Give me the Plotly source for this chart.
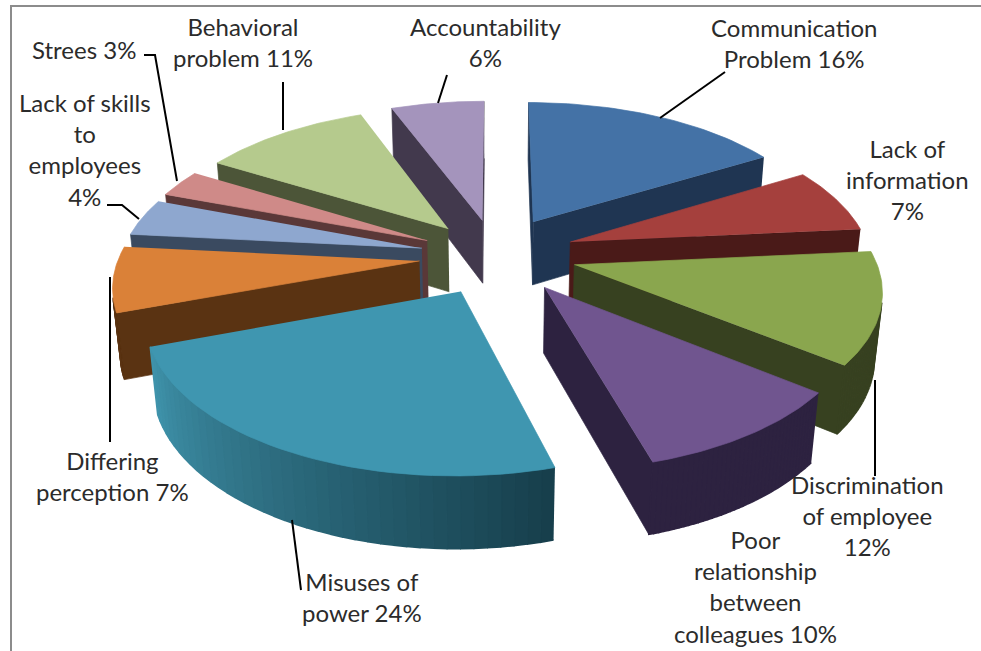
import numpy as np
import plotly.graph_objects as go

categories = ["Communication Problem", "Lack of information", "Discrimination of employee",
              "Poor relationship between colleagues", "Misuses of power", "Differing perception",
              "Lack of skills to employees", "Strees", "Behavioral problem", "Accountability"]
values = [16, 7, 12, 10, 24, 7, 4, 3, 11, 6]
label_lines = ["Communication<br>Problem {}%", "Lack of<br>information<br>{}%", "Discrimination<br>of employee<br>{}%",
               "Poor<br>relationship<br>between<br>colleagues {}%", "Misuses of<br>power {}%", "Differing<br>perception {}%",
               "Lack of skills<br>to<br>employees<br>{}%", "Strees {}%", "Behavioral<br>problem {}%", "Accountability<br>{}%"]
top_colors = ["#4472A6", "#A5403D", "#8AA64E", "#70558F", "#3F96B0", "#DA8138", "#8EA7CF", "#CF8A88", "#B5CA8D", "#A494BC"]
wall_start = ["#1F3552", "#4A1A18", "#374120", "#2D2240", "#3F93AB", "#5A3312", "#3A4A60", "#5A3838", "#4C5538", "#42394D"]
wall_end = ["#1F3552", "#4A1A18", "#374120", "#2D2240", "#173F4C", "#5A3312", "#3A4A60", "#5A3838", "#4C5538", "#42394D"]
explode = [80, 80, 80, 80, 80, 77, 76, 76, 74, 75]
label_pos = [(794, 43), (907, 179), (867, 515), (755, 586), (362, 597), (112, 476), (85, 149), (84, 49), (243, 42), (485, 42)]
leaders = [[(725, 72), (660, 118)], [(875, 380), (875, 476)], [(292, 520), (301, 590)], [(110, 277), (110, 442)],
           [(107, 205), (122, 205), (139, 219)], [(144, 55), (155, 55), (177, 181)], [(283, 82), (283, 130)],
           [(447, 75), (438, 103)]]

CX, CY, R, H, DIST = 496, 255, 300, 75, 1800
TILT = np.arcsin(0.486)
FIRST_ANGLE = np.radians(2)


def warp(theta):
    # the picture's slice edges sit upright at 12 o'clock and are turned slightly elsewhere
    return theta + FIRST_ANGLE * (1 - np.maximum(np.cos(theta), 0) ** 4)


def project(xw, yw, z):
    depth = yw * np.cos(TILT) - z * np.sin(TILT)
    s = DIST / (DIST + depth)
    return CX + s * xw, CY - s * (yw * np.sin(TILT) + z * np.cos(TILT))


def mix(a, b, t):
    ca = [int(a[i:i + 2], 16) for i in (1, 3, 5)]
    cb = [int(b[i:i + 2], 16) for i in (1, 3, 5)]
    return "rgb({},{},{})".format(*[round(u + (v - u) * t) for u, v in zip(ca, cb)])


def area(px, py):
    return 0.5 * np.sum(px * np.roll(py, -1) - np.roll(px, -1) * py)


fig = go.Figure()


def poly(px, py, color, width=0.7):
    fig.add_trace(go.Scatter(x=list(px), y=list(py), mode="lines", fill="toself", fillcolor=color,
                             line=dict(color=color, width=width), hoverinfo="skip", showlegend=False))


edges = np.cumsum([0] + values) / sum(values) * 2 * np.pi
mids = (edges[:-1] + edges[1:]) / 2
order = sorted(range(len(values)), key=lambda i: -np.cos(mids[i]) * (explode[i] + R * 0.5))

for i in order:
    ox, oy = explode[i] * np.sin(mids[i]), explode[i] * np.cos(mids[i])
    th = warp(np.linspace(edges[i], edges[i + 1], 41))
    ax, ay = ox + R * np.sin(th), oy + R * np.cos(th)

    def quad(x0, y0, x1, y1):
        return project(np.array([x0, x1, x1, x0]), np.array([y0, y1, y1, y0]), np.array([0, 0, -H, -H]))

    walls = [quad(ox, oy, ax[0], ay[0]), quad(ax[-1], ay[-1], ox, oy)]
    for px, py in walls:
        if area(px, py) < 0:
            poly(px, py, wall_start[i] if wall_start[i] == wall_end[i] else "#2B6274")
    nseg = 40
    for k in range(nseg):
        px, py = quad(ax[k], ay[k], ax[k + 1], ay[k + 1])
        if area(px, py) < 0:
            c = mix(wall_start[i], wall_end[i], 1 - k / (nseg - 1))
            poly(px, py, c, width=1.6)
    tx, ty = project(np.r_[ox, ax], np.r_[oy, ay], np.zeros(42))
    poly(tx, ty, top_colors[i])

for path in leaders:
    fig.add_trace(go.Scatter(x=[p[0] for p in path], y=[p[1] for p in path], mode="lines",
                             line=dict(color="#000000", width=2), hoverinfo="skip", showlegend=False))

annotations = [dict(x=p[0], y=p[1], xref="x", yref="y", text=t.format(v), showarrow=False, align="center",
                    font=dict(family="Lato", size=24, color="#2b2b2b"))
               for t, v, p in zip(label_lines, values, label_pos)]

fig.update_layout(width=981, height=651, margin=dict(l=0, r=0, t=0, b=0), paper_bgcolor="white",
                  plot_bgcolor="white", annotations=annotations,
                  xaxis=dict(range=[0, 981], visible=False, fixedrange=True),
                  yaxis=dict(range=[651, 0], visible=False, fixedrange=True),
                  shapes=[dict(type="rect", x0=11, y0=6, x1=995, y1=665, xref="x", yref="y",
                               line=dict(color="#8c8c8c", width=2), fillcolor="rgba(0,0,0,0)")])
fig.write_html("out.html", config={"displayModeBar": False},
               post_script="document.body.style.margin='0';document.body.style.overflow='hidden';")
